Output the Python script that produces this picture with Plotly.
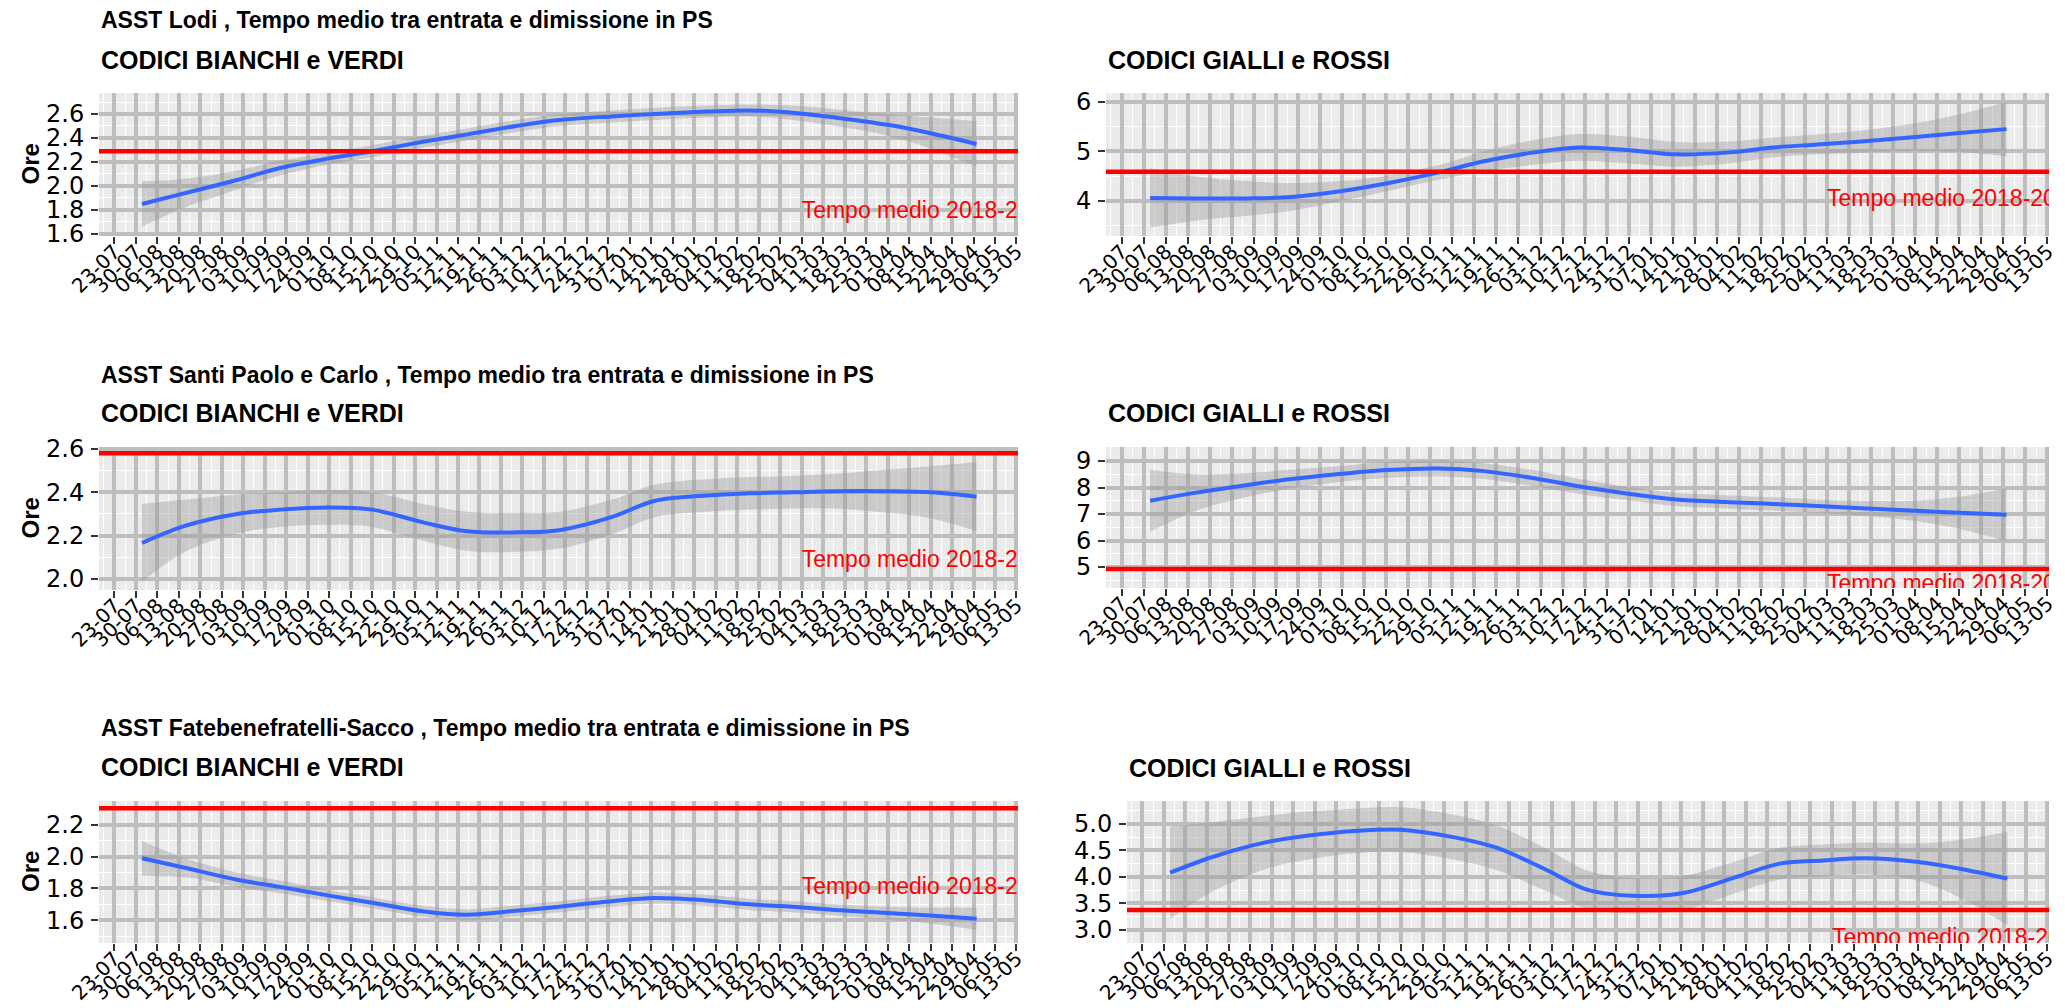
import plotly.graph_objects as go
from plotly.subplots import make_subplots

# date grid of the smoothed curves (loess fit)
dates = ["2018-08-01", "2018-08-15", "2018-09-01", "2018-09-15", "2018-10-01", "2018-10-15",
         "2018-11-01", "2018-11-15", "2018-12-01", "2018-12-15", "2019-01-01", "2019-01-15",
         "2019-02-01", "2019-02-15", "2019-03-01", "2019-03-15", "2019-04-01", "2019-04-15",
         "2019-04-30"]

# ASST Lodi
lodi_bv = [1.85, 1.94, 2.05, 2.15, 2.23, 2.29, 2.37, 2.43, 2.50, 2.55, 2.58, 2.60,
           2.62, 2.63, 2.61, 2.57, 2.51, 2.44, 2.35]
lodi_bv_se = [0.19, 0.12, 0.08, 0.06, 0.05, 0.05, 0.05, 0.05, 0.05, 0.05, 0.05, 0.05,
              0.05, 0.05, 0.06, 0.07, 0.09, 0.13, 0.19]
lodi_gr = [4.06, 4.05, 4.05, 4.08, 4.20, 4.35, 4.58, 4.80, 4.98, 5.08, 5.02, 4.94,
           4.98, 5.08, 5.14, 5.20, 5.29, 5.37, 5.45]
lodi_gr_se = [0.60, 0.45, 0.35, 0.28, 0.20, 0.16, 0.15, 0.20, 0.25, 0.27, 0.27, 0.25,
              0.22, 0.20, 0.20, 0.22, 0.28, 0.38, 0.55]

# ASST Santi Paolo e Carlo
spc_bv = [2.166, 2.245, 2.30, 2.32, 2.33, 2.32, 2.26, 2.22, 2.215, 2.225, 2.285, 2.36,
          2.385, 2.395, 2.40, 2.405, 2.405, 2.40, 2.38]
spc_bv_se = [0.18, 0.12, 0.09, 0.08, 0.08, 0.08, 0.085, 0.09, 0.09, 0.085, 0.08, 0.075,
             0.075, 0.075, 0.075, 0.08, 0.10, 0.12, 0.16]
spc_gr = [7.50, 7.80, 8.10, 8.32, 8.52, 8.66, 8.72, 8.62, 8.35, 8.05, 7.75, 7.55,
          7.45, 7.38, 7.30, 7.22, 7.12, 7.05, 6.97]
spc_gr_se = [1.17, 0.70, 0.45, 0.35, 0.30, 0.30, 0.30, 0.30, 0.30, 0.28, 0.25, 0.25,
             0.25, 0.25, 0.25, 0.28, 0.38, 0.60, 1.00]

# ASST Fatebenefratelli-Sacco
fbf_bv = [1.99, 1.93, 1.855, 1.81, 1.755, 1.71, 1.655, 1.635, 1.66, 1.685, 1.72, 1.74,
          1.725, 1.70, 1.685, 1.665, 1.645, 1.63, 1.61]
fbf_bv_se = [0.11, 0.06, 0.045, 0.04, 0.035, 0.035, 0.035, 0.035, 0.035, 0.035, 0.035,
             0.035, 0.035, 0.035, 0.035, 0.035, 0.04, 0.05, 0.07]
fbf_gr = [4.08, 4.38, 4.65, 4.78, 4.87, 4.89, 4.75, 4.55, 4.14, 3.75, 3.64, 3.70,
          4.00, 4.25, 4.31, 4.35, 4.28, 4.15, 3.97]
fbf_gr_se = [0.87, 0.65, 0.50, 0.45, 0.42, 0.42, 0.42, 0.42, 0.40, 0.36, 0.33, 0.32,
             0.30, 0.30, 0.30, 0.30, 0.35, 0.55, 0.88]

# "Tempo medio 2018-2019" reference values (red lines)
mean_2018 = [2.29, 4.59, 2.58, 4.93, 2.305, 3.375]

hospitals = ["ASST Lodi", "ASST Santi Paolo e Carlo", "ASST Fatebenefratelli-Sacco"]
subtitles = ["CODICI BIANCHI e VERDI", "CODICI GIALLI e ROSSI"]

W, H = 2065, 1008
TICKFONT = "DejaVu Sans"
TEXTFONT = "Liberation Sans, Arial, sans-serif"

panels = [
    dict(r=1, c=1, y=lodi_bv, se=lodi_bv_se, m=mean_2018[0], ty=1.78, yr=[1.583, 2.775], dt=0.2, mdt=0.1, fmt=".1f", px=(91, 1010), py=(85, 228)),
    dict(r=1, c=2, y=lodi_gr, se=lodi_gr_se, m=mean_2018[1], ty=4.02, yr=[3.29, 6.18], dt=1, mdt=0.5, fmt="d", px=(1098, 2041), py=(85, 228)),
    dict(r=2, c=1, y=spc_bv, se=spc_bv_se, m=mean_2018[2], ty=2.08, yr=[1.949, 2.609], dt=0.2, mdt=0.1, fmt=".1f", px=(91, 1010), py=(439, 582)),
    dict(r=2, c=2, y=spc_gr, se=spc_gr_se, m=mean_2018[3], ty=4.33, yr=[4.21, 9.53], dt=1, mdt=0.5, fmt="d", px=(1098, 2041), py=(439, 580)),
    dict(r=3, c=1, y=fbf_bv, se=fbf_bv_se, m=mean_2018[4], ty=1.80, yr=[1.457, 2.35], dt=0.2, mdt=0.1, fmt=".1f", px=(91, 1010), py=(793, 935)),
    dict(r=3, c=2, y=fbf_gr, se=fbf_gr_se, m=mean_2018[5], ty=2.83, yr=[2.755, 5.43], dt=0.5, mdt=0.25, fmt=".1f", px=(1119, 2041), py=(793, 935)),
]

fig = make_subplots(rows=3, cols=2)

for p in panels:
    r, c = p["r"], p["c"]
    upper = [v + s for v, s in zip(p["y"], p["se"])]
    lower = [v - s for v, s in zip(p["y"], p["se"])]
    fig.add_trace(go.Scatter(x=dates, y=upper, mode="lines", line=dict(width=0, shape="spline"),
                             hoverinfo="skip", showlegend=False), row=r, col=c)
    fig.add_trace(go.Scatter(x=dates, y=lower, mode="lines", line=dict(width=0, shape="spline"),
                             fill="tonexty", fillcolor="rgba(153,153,153,0.4)",
                             hoverinfo="skip", showlegend=False), row=r, col=c)
    fig.add_trace(go.Scatter(x=dates, y=p["y"], mode="lines",
                             line=dict(color="#3366FF", width=4, shape="spline"),
                             showlegend=False), row=r, col=c)
    fig.add_trace(go.Scatter(x=["2019-03-04"], y=[p["ty"]], mode="text",
                             text=["Tempo medio 2018-2019"], textposition="middle right",
                             cliponaxis=True, textfont=dict(color="red", size=23, family=TEXTFONT),
                             showlegend=False), row=r, col=c)
    fig.add_hline(y=p["m"], line=dict(color="red", width=4.5), row=r, col=c)

    fig.update_xaxes(
        domain=[p["px"][0] / W, p["px"][1] / W],
        type="date", range=["2018-07-18", "2019-05-13 12:00"],
        tickmode="linear", tick0="2018-07-23", dtick=7 * 86400000, tickformat="%d-%m",
        tickangle=-45, tickfont=dict(family=TICKFONT, size=20, color="black"),
        ticks="outside", ticklen=7, tickwidth=2, tickcolor="#333333",
        ticklabelstandoff=-12,
        showgrid=True, gridcolor="#BEBEBE", gridwidth=4,
        minor=dict(showgrid=True, gridcolor="white", gridwidth=1, dtick=3.5 * 86400000,
                   tick0="2018-07-23", ticks=""),
        zeroline=False, showline=False, automargin=False,
        row=r, col=c)
    fig.update_yaxes(
        domain=[1 - p["py"][1] / H, 1 - p["py"][0] / H],
        range=p["yr"], tickmode="linear", tick0=0, dtick=p["dt"], tickformat=p["fmt"],
        tickfont=dict(family=TICKFONT, size=24, color="black"),
        ticks="outside", ticklen=7, tickwidth=2, tickcolor="#333333",
        ticklabelstandoff=2,
        showgrid=True, gridcolor="#BEBEBE", gridwidth=4,
        minor=dict(showgrid=True, gridcolor="white", gridwidth=1, dtick=p["mdt"], tick0=0, ticks=""),
        zeroline=False, showline=False, automargin=False,
        row=r, col=c)

annotations = []
title_y = [12, 367, 720]
sub_y = [(52, 52), (405, 405), (759, 759.5)]
for i, h in enumerate(hospitals):
    annotations.append(dict(text=f"{h} , Tempo medio tra entrata e dimissione in PS",
                            x=91 / W, y=1 - title_y[i] / H, xref="paper", yref="paper",
                            xanchor="left", yanchor="middle", showarrow=False,
                            font=dict(family=TEXTFONT, size=23, color="black", weight="bold")))
    left_x = [91, 1098 if i < 2 else 1119]
    for j in range(2):
        annotations.append(dict(text=subtitles[j], x=left_x[j] / W, y=1 - sub_y[i][j] / H,
                                xref="paper", yref="paper", xanchor="left", yanchor="middle",
                                showarrow=False,
                                font=dict(family=TEXTFONT, size=25, color="black", weight="bold")))
    py = panels[2 * i]["py"]
    annotations.append(dict(text="Ore", x=22 / W, y=1 - (py[0] + py[1]) / 2 / H, xref="paper",
                            yref="paper", xanchor="center", yanchor="middle", textangle=-90,
                            showarrow=False,
                            font=dict(family=TEXTFONT, size=24, color="black", weight="bold")))

fig.update_layout(
    width=W, height=H, margin=dict(l=0, r=0, t=0, b=0),
    paper_bgcolor="white", plot_bgcolor="#EBEBEB",
    annotations=annotations, showlegend=False,
)

fig.write_html("out.html")
